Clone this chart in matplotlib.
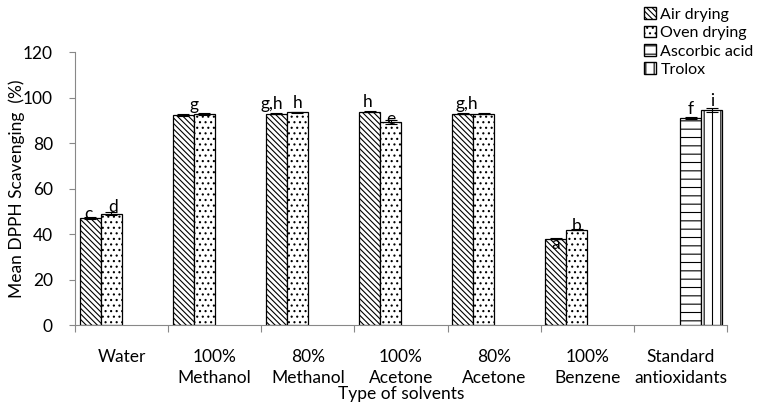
import numpy as np
import matplotlib
matplotlib.use("Agg")
import matplotlib.pyplot as plt
from matplotlib.patches import Patch

plt.rcParams['font.family'] = ['Lato', 'DejaVu Sans']
plt.rcParams['hatch.linewidth'] = 0.8

# data
solvents = ['Water', '100%\nMethanol', '80%\nMethanol', '100%\nAcetone',
            '80%\nAcetone', '100%\nBenzene', 'Standard\nantioxidants']
air_drying = [47, 92.5, 93, 93.8, 93, 38, np.nan]
oven_drying = [49, 92.7, 93.6, 89.3, 93, 42, np.nan]
ascorbic = [np.nan, np.nan, np.nan, np.nan, np.nan, np.nan, 91]
trolox = [np.nan, np.nan, np.nan, np.nan, np.nan, np.nan, 94.6]
air_err = [0.5, 0.5, 0.3, 0.3, 0.3, 0.3, np.nan]
oven_err = [0.5, 0.4, 0.3, 0.8, 0.3, 0.3, np.nan]
asc_err = [np.nan] * 6 + [0.4]
tro_err = [np.nan] * 6 + [0.9]
series_names = ['Air drying', 'Oven drying', 'Ascorbic acid', 'Trolox']
hatches = ['\\' * 6, '...', '--', '||']

# letters: (category, slot, text, dx, dy)
letters = [(0, 0, 'c', -0.02, -1.8), (0, 1, 'd', 0.02, -0.8),
           (1, 1, 'g', -0.11, 0.6),
           (2, 0, 'g,h', -0.05, 0.6), (2, 1, 'h', 0.0, 0.6),
           (3, 0, 'h', -0.02, 0.6), (3, 1, 'e', 0.0, -2.0),
           (4, 0, 'g,h', 0.04, 0.6),
           (5, 0, 'a', 0.0, -6.0), (5, 1, 'b', 0.0, -1.8),
           (6, 2, 'f', 0.0, 0.6), (6, 3, 'i', 0.0, 0.6)]

fig = plt.figure(figsize=(7.59, 4.03), dpi=100)
ax = fig.add_axes([0.0988, 0.1935, 0.859, 0.677])

x = np.arange(len(solvents))
w = 0.225
offsets = [-1.5 * w, -0.5 * w, 0.5 * w, 1.5 * w]
values = [air_drying, oven_drying, ascorbic, trolox]
errs = [air_err, oven_err, asc_err, tro_err]

for vals, err, off, h, name in zip(values, errs, offsets, hatches, series_names):
    ax.bar(x + off, vals, w, color='white', edgecolor='black', hatch=h,
           linewidth=0.9, label=name)
    ax.errorbar(x + off, vals, yerr=err, fmt='none', ecolor='black',
                elinewidth=0.8, capsize=4, capthick=0.8)

for ci, si, txt, dx, dy in letters:
    v = values[si][ci]
    ax.text(ci + offsets[si] + dx, v + dy, txt, ha='center', va='bottom',
            fontsize=12.5)

ax.set_xlim(-0.5, len(solvents) - 0.5)
ax.set_ylim(0, 120)
ax.set_yticks(np.arange(0, 121, 20))
ax.set_xticks(np.arange(-0.5, len(solvents), 1.0))
ax.set_xticklabels([])
ax.set_xticks(x, minor=True)
ax.set_xticklabels(solvents, minor=True, fontsize=12.5, linespacing=1.45)
ax.tick_params(axis='x', which='major', length=5, color='#888888')
ax.tick_params(axis='x', which='minor', length=0, pad=17)
ax.tick_params(axis='y', length=4, color='#888888', labelsize=12.5, pad=12)
for s in ['top', 'right']:
    ax.spines[s].set_visible(False)
for s in ['left', 'bottom']:
    ax.spines[s].set_color('#888888')

ax.set_ylabel('Mean DPPH Scavenging  (%)', fontsize=12.5)
ax.yaxis.set_label_coords(-0.077, 0.5)
ax.set_xlabel('Type of solvents', fontsize=12.5)
ax.xaxis.set_label_coords(0.5, -0.222)

handles = [Patch(facecolor='white', edgecolor='black', hatch=h, label=n)
           for h, n in zip(hatches, series_names)]
fig.legend(handles=handles, loc='upper left', bbox_to_anchor=(0.848, 0.982),
           frameon=False, fontsize=11.5, handlelength=0.75, handleheight=0.75,
           handletextpad=0.3, labelspacing=0.25, borderpad=0.0,
           borderaxespad=0.0)

fig.savefig('out.png', dpi=100)
